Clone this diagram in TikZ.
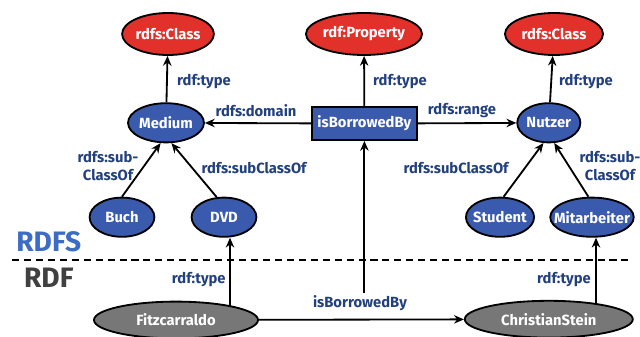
\documentclass[tikz,border=0pt]{standalone}
\usepackage{fontspec}
\setmainfont{Fira Sans}
\usetikzlibrary{arrows.meta,backgrounds,shapes.geometric}

\definecolor{clsred}{HTML}{E2302B}
\definecolor{resblue}{HTML}{3A5BAD}
\definecolor{instgray}{HTML}{777777}
\definecolor{lblblue}{HTML}{22407C}
\definecolor{rdfsblue}{HTML}{3D6CC4}
\definecolor{rdfgray}{HTML}{404040}

\tikzset{
  cls/.style={ellipse, draw=black, line width=1.3pt, fill=clsred, text=white,
    font=\bfseries\fontsize{10.5}{12}\selectfont, minimum height=1.05cm, inner sep=0pt},
  res/.style={ellipse, draw=black, line width=1.3pt, fill=resblue, text=white,
    font=\bfseries\fontsize{10.5}{12}\selectfont, minimum height=0.98cm, inner sep=0pt},
  prop/.style={rectangle, draw=black, line width=1.3pt, fill=resblue, text=white,
    font=\bfseries\fontsize{10.5}{12}\selectfont, minimum width=2.62cm, minimum height=0.82cm},
  inst/.style={ellipse, draw=black, line width=1.3pt, fill=instgray, text=white,
    font=\bfseries\fontsize{10.5}{12}\selectfont, minimum height=0.92cm, inner sep=0pt},
  lbl/.style={text=lblblue, font=\bfseries\fontsize{10.5}{12.5}\selectfont, align=center, inner sep=1pt},
  arr/.style={-{Stealth[length=7pt,width=6pt]}, line width=1.3pt},
}

\begin{document}
\begin{tikzpicture}
  \useasboundingbox (0,0) rectangle (16,8.4);

  % schema layer
  \node[cls, minimum width=2.12cm] (clsL) at (4.2,7.55) {rdfs:Class};
  \node[cls, minimum width=2.55cm] (rdfprop) at (9.1,7.55) {rdf:Property};
  \node[cls, minimum width=2.45cm] (clsR) at (13.85,7.55) {rdfs:Class};
  \node[res, minimum width=1.5cm] (medium) at (4.15,5.33) {Medium};
  \node[prop] (borrowed) at (9.11,5.31) {isBorrowedBy};
  \node[res, minimum width=1.5cm] (nutzer) at (13.72,5.33) {Nutzer};
  \node[res, minimum width=1.62cm] (buch) at (3.05,2.97) {Buch};
  \node[res, minimum width=1.62cm] (dvd) at (5.6,2.97) {DVD};
  \node[res, minimum width=1.62cm, inner xsep=-2pt] (student) at (12.5,2.97) {Student};
  \node[res, minimum width=2.02cm, inner xsep=-6pt] (mitarb) at (14.8,2.97) {Mitarbeiter};

  % instance layer
  \node[inst, minimum width=4.1cm] (fitz) at (4.4,0.4) {Fitzcarraldo};
  \node[inst, minimum width=4.2cm] (chris) at (13.72,0.42) {ChristianStein};

  % layer separator
  \draw[dashed, dash pattern=on 5pt off 3.5pt, line width=1.5pt] (0.3,1.9) -- (15.8,1.9);
  \node[text=rdfsblue, font=\bfseries\fontsize{20}{22}\selectfont] (rdfslbl) at (1.22,2.35) {RDFS};
  \node[text=rdfgray, font=\bfseries\fontsize{20}{22}\selectfont] (rdflbl) at (1.22,1.45) {RDF};

  % edge labels
  \node[lbl] (tyL) at (5.1,6.35) {rdf:type};
  \node[lbl] (tyM) at (10.0,6.35) {rdf:type};
  \node[lbl] (tyR) at (14.65,6.35) {rdf:type};
  \node[lbl] (dom) at (6.4,5.63) {rdfs:domain};
  \node[lbl] (rng) at (11.55,5.63) {rdfs:range};
  \node[lbl] (scA) at (2.7,4.25) {rdfs:sub-\\ClassOf};
  \node[lbl] (scB) at (6.35,4.2) {rdfs:subClassOf};
  \node[lbl] (scC) at (11.4,4.2) {rdfs:subClassOf};
  \node[lbl] (scD) at (15.25,4.25) {rdfs:sub-\\ClassOf};
  \node[lbl] (tyF) at (4.97,1.4) {rdf:type};
  \node[lbl] (tyC) at (14.1,1.4) {rdf:type};
  \node[lbl] (borrowlbl) at (9.0,0.83) {isBorrowedBy};

  \path (dvd.south) ++(0.15,0) coordinate (dvdin);
  \path (mitarb.south) ++(0.1,0) coordinate (mitin);

  \begin{pgfonlayer}{background}
    \draw[arr] (medium) -- (clsL);
    \draw[arr] (borrowed) -- (rdfprop);
    \draw[arr] (nutzer) -- (clsR);
    \draw[arr] (borrowed) -- (medium);
    \draw[arr] (borrowed) -- (nutzer);
    \draw[arr] (buch.north) -- (medium.255);
    \draw[arr] (dvd.110) -- (medium.285);
    \draw[arr] (student.80) -- (nutzer.255);
    \draw[arr] (mitarb.100) -- (nutzer.285);
    \draw[arr] (dvdin |- fitz.center) -- (dvdin);
    \draw[arr] (mitin |- chris.center) -- (mitin);
    \draw[arr] (fitz) -- (chris);
    \draw[arr] (borrowlbl.north -| borrowed.south) -- (borrowed.south);
  \end{pgfonlayer}
\end{tikzpicture}
\end{document}
